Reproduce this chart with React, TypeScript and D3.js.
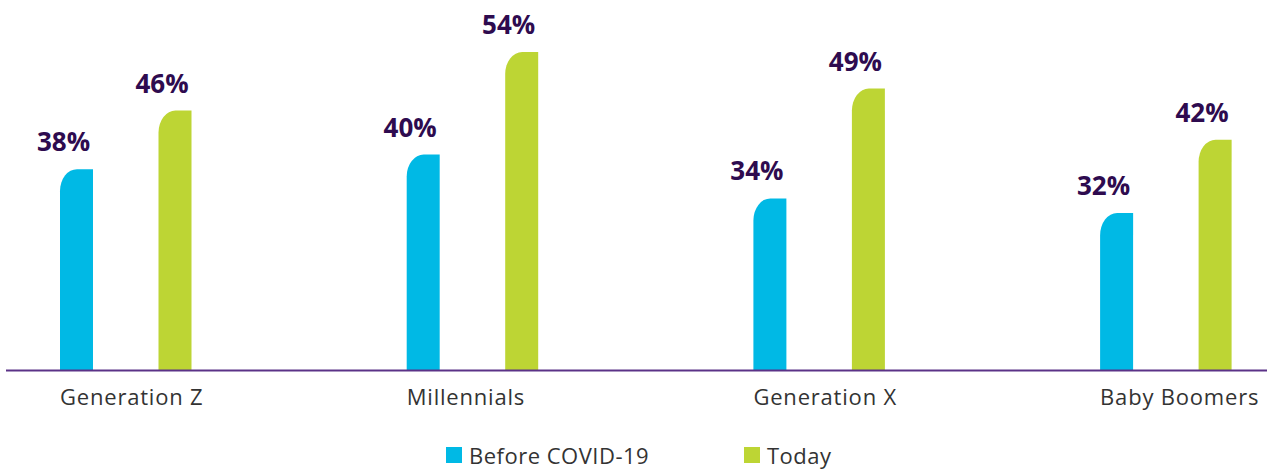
import React from "react";
import * as d3 from "d3";

const categories = ["Generation Z", "Millennials", "Generation X", "Baby Boomers"];
const series = ["Before COVID-19", "Today"];
const beforeValues = [38, 40, 34, 32];
const todayValues = [46, 54, 49, 42];
const colors = ["#00b9e5", "#bdd534"];

const W = 1267;
const H = 469;
const baseline = 370.5;

export default function App() {
  const x = d3
    .scaleBand<string>()
    .domain(categories)
    .range([60, 60 + 4 * 346.7])
    .paddingInner(0)
    .paddingOuter(0);
  const xi = d3
    .scaleBand<string>()
    .domain(series)
    .range([0, 131.5])
    .paddingInner(0.665)
    .paddingOuter(0);
  const y = d3.scaleLinear().domain([10.5, 54]).range([baseline, 52]);
  const bw = xi.bandwidth();
  const rx = 17;
  const ry = 22;

  const barPath = (x0: number, top: number) => {
    const x1 = x0 + bw;
    return `M${x0},${baseline}L${x0},${top + ry}A${rx},${ry} 0 0 1 ${x0 + rx},${top}L${x1},${top}L${x1},${baseline}Z`;
  };

  const data = categories.map((c, i) => [beforeValues[i], todayValues[i]]);

  return (
    <svg width={W} height={H} style={{ position: "absolute", left: 0, top: 0 }}>
      <rect width={W} height={H} fill="#fff" />
      {categories.map((c, i) =>
        series.map((s, j) => {
          const v = data[i][j];
          const x0 = (x(c) as number) + (xi(s) as number);
          const top = y(v);
          return (
            <g key={c + s}>
              <path d={barPath(x0, top)} fill={colors[j]} />
              <text
                x={x0 + bw / 2 - 13}
                y={top - 18}
                textAnchor="middle"
                fontFamily="'Open Sans', sans-serif"
                fontWeight={700}
                fontSize={26}
                fill="#2e0b4f"
              >
                {v}%
              </text>
            </g>
          );
        })
      )}
      <line x1={6} x2={W} y1={baseline} y2={baseline} stroke="#5b3287" strokeWidth={2} />
      {categories.map((c) => (
        <text
          key={c}
          x={x(c) as number}
          y={405}
          fontFamily="'Open Sans', sans-serif"
          fontSize={22}
          letterSpacing={0.8}
          fill="#333"
        >
          {c}
        </text>
      ))}
      {series.map((s, j) => {
        const lx = [446, 744][j];
        return (
          <g key={s}>
            <rect x={lx} y={447} width={16} height={16} fill={colors[j]} />
            <text
              x={lx + 23}
              y={464}
              fontFamily="'Open Sans', sans-serif"
              fontSize={22}
              letterSpacing={0.5}
              fill="#333"
            >
              {s}
            </text>
          </g>
        );
      })}
    </svg>
  );
}
